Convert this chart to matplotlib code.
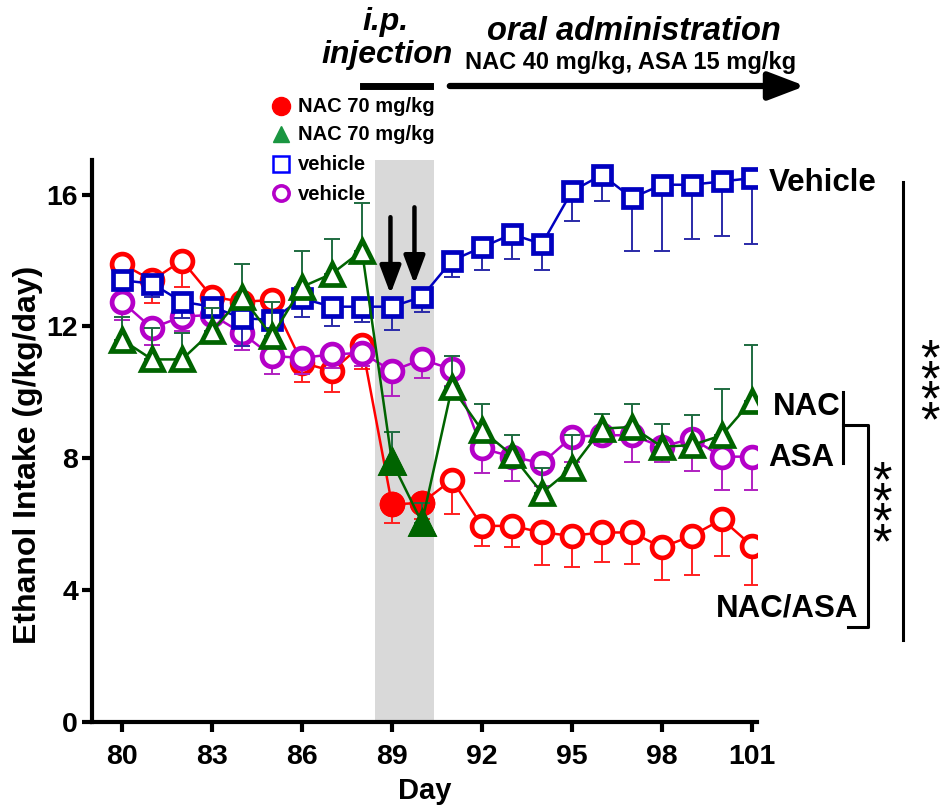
import numpy as np
import matplotlib
matplotlib.use('Agg')
import matplotlib.pyplot as plt
from matplotlib.lines import Line2D

plt.rcParams['font.family'] = ['Liberation Sans', 'DejaVu Sans']
plt.rcParams['font.weight'] = 'bold'

days = np.arange(80, 102)

vehicle = [13.4, 13.3, 12.75, 12.6, 12.25, 12.2, 12.85, 12.6, 12.6, 12.6, 12.9,
           14.0, 14.4, 14.8, 14.5, 16.1, 16.6, 15.9, 16.3, 16.3, 16.4, 16.5]
vehicle_err = [0.3, 0.4, 0.5, 0.3, 0.85, 0.2, 0.55, 0.6, 0.45, 0.7, 0.45,
               0.5, 0.7, 0.75, 0.8, 0.9, 0.8, 1.6, 2.0, 1.65, 1.65, 2.0]
nac = [11.6, 11.0, 11.0, 11.85, 12.9, 11.7, 13.2, 13.6, 14.3, 7.9, 6.05,
       10.15, 8.85, 8.1, 6.95, 7.7, 8.9, 8.95, 8.35, 8.4, 8.7, 9.75]
nac_err = [0.7, 0.95, 0.8, 0.7, 1.0, 1.05, 1.1, 1.05, 1.45, 0.9, 0.6,
           0.95, 0.8, 0.6, 0.75, 1.0, 0.45, 0.7, 0.7, 0.9, 1.4, 1.7]
asa = [12.75, 11.95, 12.3, 12.35, 11.8, 11.1, 11.05, 11.15, 11.2, 10.65, 11.0,
       10.7, 8.3, 8.05, 7.85, 8.65, 8.7, 8.7, 8.35, 8.6, 8.05, 8.05]
asa_err = [0.55, 0.5, 0.45, 0.5, 0.5, 0.55, 0.5, 0.4, 0.4, 0.75, 0.55,
           0.5, 0.75, 0.75, 0.7, 0.75, 0.3, 0.8, 0.45, 1.0, 1.0, 1.0]
combo = [13.9, 13.4, 14.0, 12.9, 12.75, 12.8, 10.9, 10.65, 11.45, 6.6, 6.65,
         7.35, 5.95, 5.95, 5.75, 5.65, 5.75, 5.75, 5.3, 5.65, 6.15, 5.35]
combo_err = [0.3, 0.7, 0.8, 0.3, 0.3, 0.3, 0.6, 0.65, 0.73, 0.55, 0.5,
             1.05, 0.6, 0.65, 1.0, 0.95, 0.9, 0.95, 1.0, 1.2, 1.1, 1.2]

ip_days = [89, 90]
injection_span = (88.45, 90.4)
xticks = [80, 83, 86, 89, 92, 95, 98, 101]
yticks = [0, 4, 8, 12, 16]
legend_labels = ['NAC 70 mg/kg', 'NAC 70 mg/kg', 'vehicle', 'vehicle']

RED = '#ff0000'
GREEN = '#006400'
BLUE = '#0000c0'
MAGENTA = '#b400c8'

W, H = 947, 811


def fpos(px, py):
    return px / W, 1 - py / H


def draw_series(ax, y, err, color, ecolor, marker, ms, up, z, filled=False):
    y = np.array(y)
    err = np.array(err)
    zero = np.zeros_like(err)
    yerr = [zero, err] if up else [err, zero]
    ax.errorbar(days, y, yerr=yerr, fmt='none', ecolor=ecolor, elinewidth=1.4,
                capsize=6, capthick=1.4, zorder=z)
    ax.plot(days, y, color=color, lw=1.8, marker=marker, ms=ms, mew=3.4,
            mfc='white', mec=color, zorder=z + 0.5)
    if filled:
        idx = [list(days).index(d) for d in ip_days]
        ax.plot(days[idx], y[idx], ls='none', marker=marker, ms=ms, mew=3.4,
                mfc=color, mec=color, zorder=z + 0.6)


fig = plt.figure(figsize=(9.47, 8.11), dpi=100)
ax = fig.add_axes([92 / W, 1 - 722 / H, (757 - 92) / W, (722 - 160) / H])

ax.axvspan(*injection_span, color='#d9d9d9', lw=0, zorder=0)

draw_series(ax, combo, combo_err, RED, '#ff2020', 'o', 15, False, 3, filled=True)
draw_series(ax, asa, asa_err, MAGENTA, '#b020c0', 'o', 15, False, 4)
draw_series(ax, vehicle, vehicle_err, BLUE, '#2a2aa8', 's', 13, False, 5)
draw_series(ax, nac, nac_err, GREEN, '#1e6b40', '^', 15.5, True, 6, filled=True)

# injection arrows
for d, off in zip(ip_days, [-0.05, -0.25]):
    yv = vehicle[list(days).index(d)]
    ax.annotate('', xy=(d + off, yv + 0.3), xytext=(d + off, yv + 2.8),
                arrowprops=dict(arrowstyle='-|>,head_width=0.32,head_length=0.85',
                                color='black', lw=3.2, mutation_scale=20),
                zorder=8)

ax.set_xlim(79, 101.17)
ax.set_ylim(0, 17.05)
ax.set_xticks(xticks)
ax.set_yticks(yticks)
for s in ['top', 'right']:
    ax.spines[s].set_visible(False)
for s in ['left', 'bottom']:
    ax.spines[s].set_linewidth(3)
ax.tick_params(width=3, length=7, labelsize=20.5)
ax.tick_params(axis='x', pad=9)
ax.tick_params(axis='y', pad=3)
for lab in ax.get_xticklabels() + ax.get_yticklabels():
    lab.set_fontweight('bold')
ax.set_xlabel('Day', fontsize=21, fontweight='bold', labelpad=5)
ax.set_ylabel('Ethanol Intake (g/kg/day)', fontsize=23, fontweight='bold')
ax.yaxis.set_label_coords(-0.074, 0.475)

# group labels
lab_kw = dict(fontsize=22.5, fontweight='bold', va='center', ha='left')
ax.text(101.55, vehicle[-1] - 0.15, 'Vehicle', **lab_kw)
ax.text(101.7, nac[-1] - 0.2, 'NAC', **lab_kw)
ax.text(101.55, asa[-1] - 0.05, 'ASA', **lab_kw)
ax.text(99.8, 3.45, 'NAC/ASA', **lab_kw)

# significance brackets
kw = dict(color='black', lw=2.2, clip_on=False)
ax.plot([104.05, 104.05], [10.0, 7.85], **kw)
ax.plot([104.05, 104.87, 104.87, 104.2], [9.0, 9.0, 2.88, 2.88], **kw)
ax.plot([106.05, 106.05], [16.37, 2.48], **kw)
star_kw = dict(fontsize=36, fontweight='normal', ha='center', va='center',
               linespacing=0.3)
ax.text(105.35, 6.3, '*\n*\n*\n*', **star_kw)
ax.text(106.95, 10.0, '*\n*\n*\n*', **star_kw)

# treatment annotations
ann_kw = dict(fontweight='bold', ha='center', va='center')
fig.text(*fpos(386, 22), 'i.p.', fontsize=23, style='italic', **ann_kw)
fig.text(*fpos(387, 55), 'injection', fontsize=23, style='italic', **ann_kw)
fig.text(*fpos(634, 31), 'oral administration', fontsize=23.5, style='italic', **ann_kw)
fig.text(*fpos(631, 63), 'NAC 40 mg/kg, ASA 15 mg/kg', fontsize=17, **ann_kw)
fig.add_artist(Line2D([363 / W, 430 / W], [1 - 86 / H, 1 - 86 / H], color='black', lw=5))
ax.annotate('', xy=fpos(808, 86), xytext=fpos(447, 86), xycoords='figure fraction',
            textcoords='figure fraction',
            arrowprops=dict(arrowstyle='-|>,head_width=0.42,head_length=1.1',
                            color='black', lw=4.5, mutation_scale=20))

# legend, drawn by hand to match the row layout
legend_markers = [
    dict(marker='o', ms=13, mfc=RED, mec=RED, mew=1),
    dict(marker='^', ms=12, mfc='#1a9641', mec='#1a9641', mew=1),
    dict(marker='s', ms=11.5, mfc='white', mec='#0000ff', mew=1.8),
    dict(marker='o', ms=11, mfc='white', mec=MAGENTA, mew=2.6),
]
rows_y = [106, 134, 164, 193]
for style, label, py in zip(legend_markers, legend_labels, rows_y):
    x0, y0 = fpos(281, py)
    fig.add_artist(Line2D([x0], [y0], ls='none', **style))
    fig.text(*fpos(298, py + 1), label, fontsize=14.5, fontweight='bold',
             ha='left', va='center')

fig.savefig('out.png', dpi=100)
